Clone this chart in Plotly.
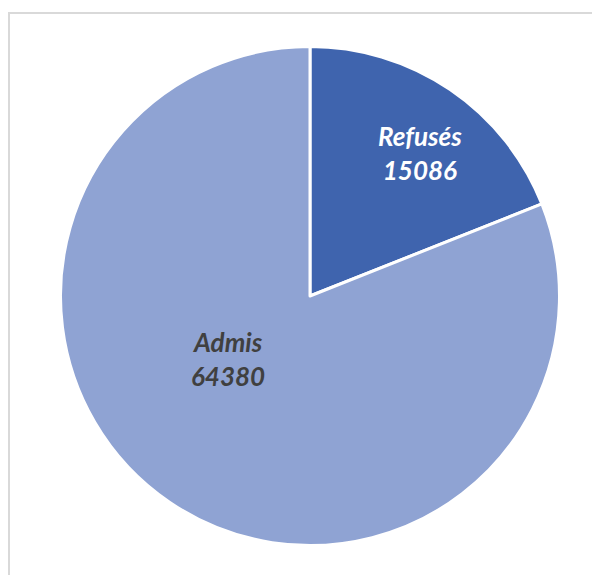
import math
import plotly.graph_objects as go

labels = ["Refusés", "Admis"]
values = [15086, 64380]
colors = ["#3F64AE", "#8FA3D3"]
text_colors = ["#FFFFFF", "#404040"]

W, H = 600, 575
cx, cy, r = 302, 288, 249.5
# label anchor offsets relative to pie centre, in units of the radius (x right, y up)
label_offsets = [(0.444, 0.575), (-0.331, -0.255)]

fig = go.Figure(go.Pie(
    labels=labels,
    values=values,
    sort=False,
    direction="clockwise",
    rotation=0,
    marker=dict(colors=colors, line=dict(color="white", width=3)),
    textinfo="none",
    hoverinfo="label+value",
    showlegend=False,
    domain=dict(x=[(cx - r) / W, (cx + r) / W], y=[1 - (cy + r) / H, 1 - (cy - r) / H]),
))

annotations = []
for lab, val, col, (ox, oy) in zip(labels, values, text_colors, label_offsets):
    annotations.append(dict(
        xref="paper", yref="paper",
        x=(cx + ox * 248) / W, y=1 - (cy - oy * 248) / H,
        text=f"<b><i>{lab}<br>{val}</i></b>",
        showarrow=False, align="center", xanchor="center", yanchor="middle",
        font=dict(family="Lato", size=26, color=col),
    ))

fig.update_layout(
    width=W, height=H,
    margin=dict(l=0, r=0, t=0, b=0),
    paper_bgcolor="white",
    plot_bgcolor="white",
    annotations=annotations,
    shapes=[dict(type="rect", xref="paper", yref="paper",
                 x0=1 / W, x1=1.05, y0=-0.05, y1=1 - 5 / H,
                 line=dict(color="#D9D9D9", width=2), fillcolor="rgba(0,0,0,0)", layer="below")],
)

fig.write_html("out.html")
